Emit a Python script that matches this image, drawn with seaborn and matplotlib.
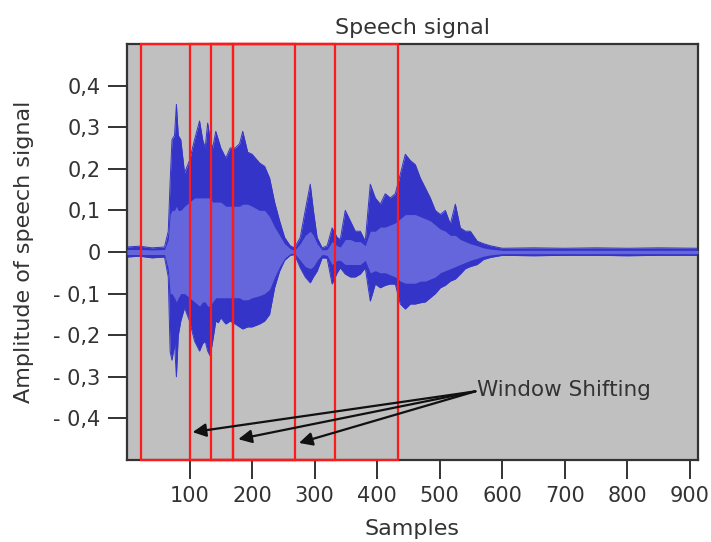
import numpy as np
import pandas as pd
import seaborn as sns
import matplotlib.pyplot as plt
from matplotlib.patches import Rectangle

# envelope of the speech waveform (sample index -> amplitude)
samples = [0, 20, 40, 60, 66, 69, 72, 76, 79, 82,
           86, 92, 100, 108, 116, 121, 125, 129, 133, 137,
           142, 146, 150, 158, 165, 173, 180, 185, 193, 200,
           212, 220, 228, 236, 244, 252, 261, 268, 277, 285,
           293, 298, 304, 312, 320, 328, 336, 341, 349, 357,
           365, 373, 381, 389, 397, 405, 413, 421, 429, 437,
           445, 453, 461, 469, 477, 485, 493, 501, 509, 517,
           525, 533, 541, 549, 560, 570, 581, 600, 650, 700,
           750, 800, 850, 913]
upper = [0.012, 0.014, 0.010, 0.012, 0.05, 0.17, 0.27, 0.28, 0.355, 0.28,
         0.27, 0.19, 0.22, 0.27, 0.315, 0.27, 0.25, 0.31, 0.27, 0.25,
         0.29, 0.27, 0.25, 0.226, 0.25, 0.25, 0.26, 0.29, 0.24, 0.235,
         0.214, 0.206, 0.178, 0.12, 0.075, 0.035, 0.015, 0.01, 0.035, 0.10,
         0.163, 0.10, 0.035, 0.01, 0.015, 0.058, 0.035, 0.03, 0.10, 0.075,
         0.05, 0.05, 0.026, 0.163, 0.13, 0.115, 0.14, 0.13, 0.14, 0.187,
         0.235, 0.22, 0.21, 0.178, 0.154, 0.13, 0.10, 0.09, 0.10, 0.067,
         0.115, 0.058, 0.05, 0.05, 0.026, 0.02, 0.015, 0.009, 0.010, 0.009,
         0.010, 0.009, 0.010, 0.009]
lower = [-0.012, -0.010, -0.014, -0.012, -0.06, -0.24, -0.26, -0.22, -0.30, -0.20,
         -0.166, -0.134, -0.166, -0.214, -0.238, -0.22, -0.214, -0.238, -0.25, -0.214,
         -0.166, -0.17, -0.158, -0.173, -0.166, -0.173, -0.18, -0.185, -0.18, -0.18,
         -0.173, -0.166, -0.15, -0.086, -0.046, -0.02, -0.008, -0.006, -0.038, -0.06,
         -0.074, -0.06, -0.046, -0.014, -0.015, -0.077, -0.05, -0.038, -0.053, -0.06,
         -0.06, -0.053, -0.038, -0.118, -0.077, -0.086, -0.08, -0.077, -0.077, -0.125,
         -0.137, -0.125, -0.125, -0.122, -0.12, -0.11, -0.10, -0.086, -0.08, -0.07,
         -0.065, -0.053, -0.04, -0.035, -0.03, -0.018, -0.013, -0.008, -0.009, -0.008,
         -0.008, -0.009, -0.008, -0.008]
inner_upper = [0.006, 0.006, 0.005, 0.006, 0.03, 0.09, 0.10, 0.10, 0.11, 0.10,
               0.10, 0.11, 0.12, 0.13, 0.13, 0.13, 0.13, 0.13, 0.13, 0.12,
               0.12, 0.12, 0.12, 0.11, 0.11, 0.11, 0.11, 0.115, 0.115, 0.11,
               0.10, 0.10, 0.085, 0.06, 0.04, 0.02, 0.008, 0.004, 0.02, 0.04,
               0.05, 0.04, 0.02, 0.005, 0.006, 0.025, 0.015, 0.012, 0.03, 0.03,
               0.025, 0.025, 0.015, 0.05, 0.05, 0.06, 0.06, 0.065, 0.07, 0.08,
               0.09, 0.09, 0.09, 0.085, 0.08, 0.075, 0.065, 0.055, 0.05, 0.04,
               0.04, 0.03, 0.025, 0.02, 0.015, 0.01, 0.007, 0.004, 0.004, 0.004,
               0.004, 0.004, 0.004, 0.004]
inner_lower = [-0.006, -0.006, -0.006, -0.006, -0.04, -0.10, -0.10, -0.11, -0.12, -0.11,
               -0.10, -0.10, -0.11, -0.12, -0.13, -0.12, -0.12, -0.13, -0.13, -0.12,
               -0.11, -0.11, -0.11, -0.11, -0.11, -0.11, -0.11, -0.115, -0.115, -0.11,
               -0.105, -0.10, -0.09, -0.06, -0.035, -0.015, -0.004, -0.003, -0.02, -0.035,
               -0.04, -0.035, -0.02, -0.006, -0.008, -0.03, -0.02, -0.02, -0.03, -0.03,
               -0.03, -0.03, -0.02, -0.05, -0.045, -0.05, -0.05, -0.055, -0.06, -0.07,
               -0.075, -0.075, -0.075, -0.07, -0.07, -0.065, -0.06, -0.05, -0.045, -0.04,
               -0.035, -0.03, -0.025, -0.02, -0.015, -0.01, -0.007, -0.004, -0.004, -0.004,
               -0.004, -0.004, -0.004, -0.004]

# analysis windows (start, end) in samples
windows = [(23, 169), (101, 268), (135, 333), (169, 434)]

# arrow tips for the "Window Shifting" note
arrow_tips = [(105, -0.433), (178, -0.450), (275, -0.459)]
note_xy = (560, -0.335)

x_ticks = [100, 200, 300, 400, 500, 600, 700, 800, 900]
y_ticks = [0.4, 0.3, 0.2, 0.1, 0.0, -0.1, -0.2, -0.3, -0.4]
y_tick_labels = ["0,4", "0,3", "0,2", "0,1", "0", "- 0,1", "- 0,2", "- 0,3", "- 0,4"]

df = pd.DataFrame({"sample": samples, "upper": upper, "lower": lower,
                   "inner_upper": inner_upper, "inner_lower": inner_lower})

sns.set_theme(style="white")
plt.rcParams['font.family'] = ['DejaVu Sans']
text_col = '#333333'

fig = plt.figure(figsize=(7.11, 5.42), dpi=100)
ax = fig.add_axes([0.1786, 0.1513, 0.8031, 0.7675])
ax.set_facecolor('#c0c0c0')

ax.fill_between(df["sample"], df["lower"], df["upper"], color='#3434c8', lw=0, zorder=2)
ax.fill_between(df["sample"], df["inner_lower"], df["inner_upper"], color='#6565dc', lw=0, zorder=3)
sns.lineplot(data=df, x="sample", y="upper", ax=ax, color='#3434c8', lw=0.7, zorder=2)
sns.lineplot(data=df, x="sample", y="lower", ax=ax, color='#3434c8', lw=0.7, zorder=2)

for start, end in windows:
    ax.add_patch(Rectangle((start, -0.5), end - start, 1.0, edgecolor='#ff1a1a',
                           facecolor='none', lw=1.6, zorder=5, clip_on=False))

ax.text(note_xy[0], note_xy[1] + 0.003, "Window Shifting", ha='left', va='center',
        fontsize=15.5, color=text_col, zorder=6)
for tip in arrow_tips:
    ax.annotate("", xy=tip, xytext=(note_xy[0] - 3, note_xy[1]),
                arrowprops=dict(arrowstyle='-|>', color='#111111', lw=1.6,
                                mutation_scale=20, shrinkA=0, shrinkB=0), zorder=6)

ax.set_xlim(0, 913)
ax.set_ylim(-0.5, 0.5)
ax.set_xticks(x_ticks)
ax.set_yticks(y_ticks, labels=y_tick_labels)
ax.tick_params(axis='both', length=14, width=1.4, color=text_col, labelsize=15,
               labelcolor=text_col, pad=5, left=True, bottom=True)

for sp in ax.spines.values():
    sp.set_color(text_col)
    sp.set_linewidth(1.6)

ax.set_title("Speech signal", fontsize=16, color=text_col, pad=7)
ax.set_xlabel("Samples", fontsize=16, color=text_col, labelpad=9)
ax.set_ylabel("Amplitude of speech signal", fontsize=16, color=text_col, labelpad=14)

fig.savefig("out.png", dpi=100)
